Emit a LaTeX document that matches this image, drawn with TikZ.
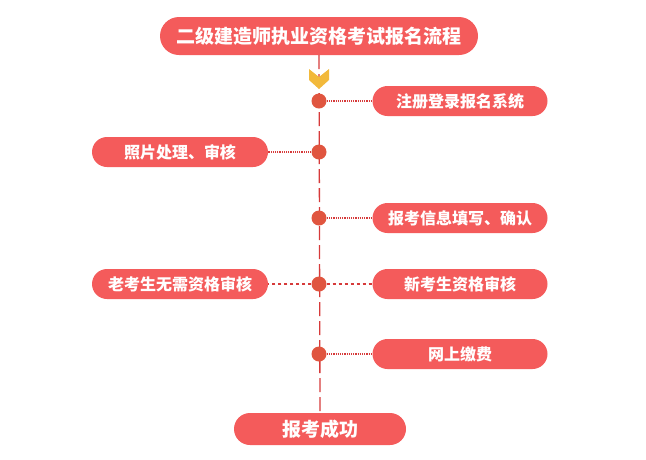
\documentclass[tikz,border=0pt]{standalone}
\usepackage{fontspec}
\setmainfont{Noto Sans CJK SC}
\definecolor{pillred}{HTML}{F45B5B}
\definecolor{dotred}{HTML}{E0553F}
\definecolor{linered}{HTML}{D63A3A}
\definecolor{chevron}{HTML}{F2B93B}
\tikzset{
  pill/.style={rounded corners=15pt,fill=pillred,text=white,font=\bfseries\fontsize{16}{18}\selectfont,minimum height=30pt,inner sep=0pt},
  dot/.style={circle,fill=dotred,minimum size=15pt,inner sep=0pt},
  link/.style={linered,densely dotted,line width=1.2pt}
}
\begin{document}
\begin{tikzpicture}[x=1pt,y=-1pt]
\useasboundingbox (0,0) rectangle (646,459);
% title and spine
\node[pill,minimum width=318pt,minimum height=38pt,rounded corners=19pt,font=\bfseries\fontsize{19}{21}\selectfont] (title) at (319,36) {二级建造师执业资格考试报名流程};
\node[pill,minimum width=172pt,minimum height=32pt,rounded corners=16pt,font=\bfseries\fontsize{19}{21}\selectfont] (done) at (320,429) {报考成功};
\draw[linered,line width=1.3pt,dash pattern=on 14pt off 5pt] (title.south) -- (done.north);
\fill[chevron] (309,69) -- (319,77) -- (329,69) -- (329,80) -- (319,89) -- (309,80) -- cycle;
% steps
\foreach \y/\n in {101/d1,152/d2,218/d3,284/d4,354/d5}
  \node[dot] (\n) at (319,\y) {};
\node[pill,minimum width=175pt] (r1) at (460,101) {注册登录报名系统};
\node[pill,minimum width=176pt] (l2) at (180,152) {照片处理、审核};
\node[pill,minimum width=175pt] (r3) at (460,218) {报考信息填写、确认};
\node[pill,minimum width=176pt] (l4) at (180,284) {老考生无需资格审核};
\node[pill,minimum width=175pt] (r4) at (460,284) {新考生资格审核};
\node[pill,minimum width=175pt] (r5) at (460,354) {网上缴费};
\draw[link] (d1) -- (r1);
\draw[link] (d2) -- (l2);
\draw[link] (d3) -- (r3);
\draw[link,dashed] (d4) -- (l4);
\draw[link,dashed] (d4) -- (r4);
\draw[link] (d5) -- (r5);
\end{tikzpicture}
\end{document}
